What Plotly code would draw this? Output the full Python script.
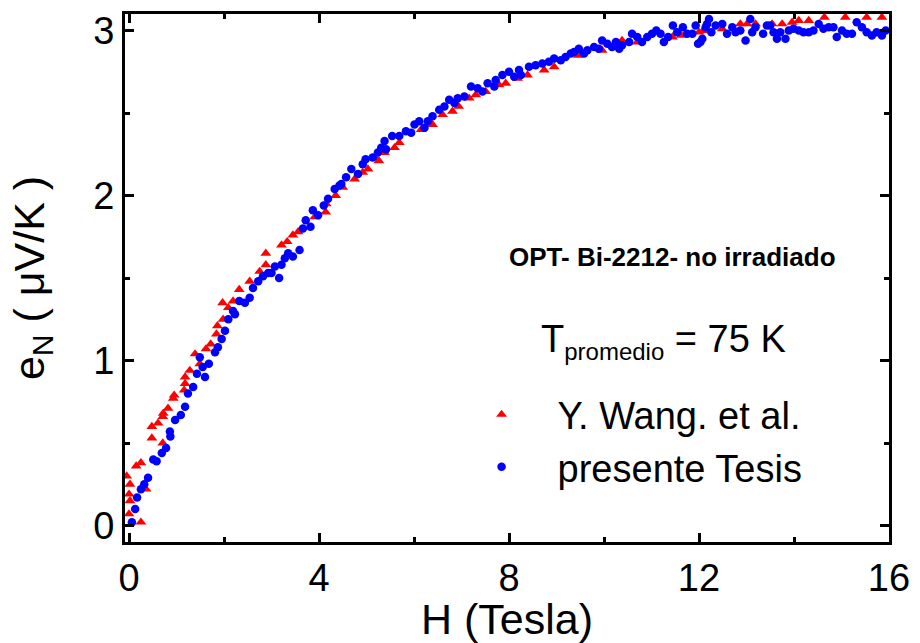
import plotly.graph_objects as go

# Y. Wang et al. (red triangles)
wang_H = [-0.05, 0.02, 0.00, 0.02, 0.00, 0.25, 0.15, 0.25, 0.36, 0.48, 0.48, 0.61, 0.71, 0.71,
          0.72, 0.82, 0.93, 0.95, 1.16, 1.18, 1.18, 1.28, 1.39, 1.49, 1.62, 1.72, 1.84, 1.86,
          1.98, 1.97, 2.09, 2.19, 2.32, 2.54, 2.75, 2.88, 2.88, 3.21, 3.33, 3.45, 3.56, 3.91,
          4.14, 4.15, 4.35, 4.50, 4.75, 4.92, 5.03, 5.17, 5.26, 5.38, 5.59, 5.69, 6.15, 6.39,
          6.60, 6.81, 6.94, 7.16, 7.30, 7.51, 7.79, 7.93, 8.18, 8.39, 8.74, 8.95, 9.46, 9.96,
          10.38, 10.70, 11.44, 11.63, 12.00, 12.09, 12.49, 12.87, 13.01, 13.19, 13.54, 13.75,
          13.96, 14.10, 14.31, 14.64, 15.08, 15.53, 15.85]
wang_e = [0.30, 0.25, 0.19, 0.15, 0.07, 0.02, 0.36, 0.38, 0.22, 0.53, 0.60, 0.62, 0.50, 0.66,
          0.68, 0.71, 0.77, 0.79, 0.82, 0.86, 0.90, 0.94, 1.04, 0.98, 1.07, 1.10, 1.16, 1.21,
          1.25, 1.35, 1.32, 1.36, 1.43, 1.48, 1.54, 1.58, 1.65, 1.70, 1.72, 1.76, 1.78, 1.87,
          1.90, 1.95, 2.00, 2.05, 2.10, 2.14, 2.16, 2.23, 2.21, 2.26, 2.29, 2.32, 2.40, 2.43,
          2.49, 2.51, 2.54, 2.59, 2.61, 2.63, 2.67, 2.68, 2.71, 2.73, 2.76, 2.78, 2.85, 2.88,
          2.94, 2.93, 2.96, 2.97, 2.99, 3.00, 3.01, 3.04, 3.04, 3.04, 3.04, 3.04,
          3.05, 3.06, 3.06, 3.08, 3.08, 3.08, 3.08]

# presente Tesis (blue dots)
tesis_H = [0.06, 0.13, 0.17, 0.25, 0.32, 0.40, 0.51, 0.58, 0.69, 0.78, 0.87, 0.86, 0.97, 1.09,
           1.18, 1.24, 1.35, 1.43, 1.60, 1.55, 1.68, 1.49, 1.81, 1.87, 1.95, 2.02, 2.09, 2.19,
           2.23, 2.32, 2.44, 2.54, 2.61, 2.72, 2.82, 2.93, 3.00, 3.16, 3.07, 3.21, 3.28, 3.35,
           3.45, 3.59, 3.66, 3.72, 3.82, 3.87, 3.98, 4.10, 4.19, 4.33, 4.43, 4.47, 4.57, 4.68,
           4.82, 4.92, 4.98, 5.13, 5.24, 5.31, 5.38, 5.41, 5.54, 5.69, 5.83, 5.94, 6.01, 6.11,
           6.22, 6.29, 6.39, 6.53, 6.64, 6.74, 6.85, 6.92, 7.06, 7.20, 7.34, 7.44, 7.55, 7.69,
           7.72, 7.86, 8.00, 8.11, 8.21, 8.25, 8.42, 8.56, 8.70, 8.84, 8.95, 9.09, 9.19, 9.30,
           9.37, 9.47, 9.58, 9.65, 9.79, 9.89, 9.96, 10.07, 10.17, 10.25, 10.32, 10.38, 10.53,
           10.59, 10.70, 10.80, 10.91, 11.01, 11.10, 11.19, 11.26, 11.35, 11.45, 11.54, 11.66,
           11.75, 11.86, 11.93, 11.98, 12.03, 12.07, 12.14, 12.17, 12.21, 12.26, 12.35, 12.49,
           12.59, 12.70, 12.77, 12.87, 12.98, 13.08, 13.12, 13.19, 13.35, 13.43, 13.50, 13.57,
           13.64, 13.71, 13.82, 13.89, 13.99, 14.10, 14.20, 14.31, 14.41, 14.52, 14.62, 14.73,
           14.83, 14.90, 15.01, 15.11, 15.22, 15.32, 15.43, 15.53, 15.64, 15.74, 15.85, 15.93]
tesis_e = [0.02, 0.10, 0.17, 0.22, 0.25, 0.29, 0.40, 0.39, 0.44, 0.47, 0.54, 0.57, 0.64, 0.67,
           0.72, 0.80, 0.84, 0.92, 0.90, 0.96, 0.98, 1.02, 1.05, 1.08, 1.13, 1.18, 1.25, 1.30,
           1.28, 1.36, 1.35, 1.38, 1.44, 1.48, 1.51, 1.53, 1.53, 1.50, 1.57, 1.58, 1.62, 1.65,
           1.63, 1.67, 1.80, 1.85, 1.81, 1.91, 1.88, 1.94, 1.98, 2.04, 2.06, 2.07, 2.11, 2.16,
           2.13, 2.19, 2.22, 2.23, 2.26, 2.29, 2.33, 2.28, 2.36, 2.36, 2.39, 2.38, 2.43, 2.45,
           2.41, 2.45, 2.48, 2.52, 2.54, 2.58, 2.56, 2.59, 2.60, 2.66, 2.65, 2.63, 2.68, 2.66,
           2.70, 2.73, 2.75, 2.72, 2.76, 2.73, 2.78, 2.79, 2.80, 2.81, 2.83, 2.82, 2.84, 2.86,
           2.87, 2.89, 2.86, 2.88, 2.90, 2.89, 2.94, 2.92, 2.90, 2.93, 2.89, 2.91, 2.93,
           2.98, 2.96, 2.93, 2.96, 2.98, 3.00, 2.98, 2.93, 2.96, 3.03, 2.99, 3.02,
           2.98, 2.98, 3.03, 2.92, 2.93, 2.95, 3.02, 3.04, 3.07, 2.99, 3.03, 3.04,
           2.98, 3.02, 2.99, 3.00, 2.94, 3.07, 2.99, 3.02, 2.98, 3.03, 3.03, 2.99,
           2.95, 2.99, 2.95, 3.00, 3.01, 3.00, 2.99, 2.99, 3.00, 3.04, 3.01, 3.02,
           3.02, 2.96, 3.00, 2.98, 2.98, 3.05, 3.02, 2.99, 2.97, 2.99, 2.97, 3.00]

x_ticks = [0, 4, 8, 12, 16]
y_ticks = [0, 1, 2, 3]

FONT = "Liberation Sans, Arial, sans-serif"

fig = go.Figure()
fig.add_trace(go.Scatter(x=wang_H, y=wang_e, mode="markers", name="Y. Wang. et al.",
                         marker=dict(symbol="triangle-up", color="#ff0000", size=9.5, line=dict(width=0))))
fig.add_trace(go.Scatter(x=tesis_H, y=tesis_e, mode="markers", name="presente Tesis",
                         marker=dict(symbol="circle", color="#0000ff", size=8.5, line=dict(width=0))))

axis_common = dict(showline=True, linewidth=3, linecolor="black", mirror="ticks",
                   ticks="inside", ticklen=9, tickwidth=3, tickcolor="black",
                   showgrid=False, zeroline=False,
                   tickfont=dict(family=FONT, size=38, color="black"))

fig.update_xaxes(range=[-0.085, 16], tickvals=x_ticks,
                 minor=dict(dtick=2, tick0=0, ticks="inside", ticklen=5, tickwidth=2.5, tickcolor="black"),
                 title=dict(text="H (Tesla)", font=dict(family=FONT, size=43, color="black"), standoff=2),
                 **axis_common)
fig.update_yaxes(range=[-0.1, 3.1], tickvals=y_ticks,
                 minor=dict(dtick=0.5, tick0=0, ticks="inside", ticklen=5, tickwidth=2.5, tickcolor="black"),
                 title=dict(text="e<sub>N</sub> ( μV/K )", font=dict(family=FONT, size=43, color="black"), standoff=36),
                 **axis_common)

fig.update_layout(
    width=920, height=643,
    margin=dict(l=125, r=30, t=10, b=101),
    plot_bgcolor="white", paper_bgcolor="white",
    font=dict(family=FONT, color="black"),
    showlegend=True,
    legend=dict(x=(446 - 125) / 765, y=(542 - 440) / 532, xanchor="left", yanchor="middle",
                font=dict(family=FONT, size=38, color="black"),
                bgcolor="rgba(0,0,0,0)", itemwidth=102, tracegroupgap=0),
    annotations=[
        dict(xref="paper", yref="paper", x=(508 - 125) / 765, y=(542 - 255) / 532,
             xanchor="left", yanchor="middle", showarrow=False,
             text="<b>OPT- Bi-2212- no irradiado</b>",
             font=dict(family=FONT, size=26, color="black")),
        dict(xref="paper", yref="paper", x=(540 - 125) / 765, y=(542 - 340) / 532,
             xanchor="left", yanchor="middle", showarrow=False,
             text="T<sub><span style=\"font-size:24px\">promedio</span></sub> = 75 K",
             font=dict(family=FONT, size=38, color="black")),
    ],
)

fig.write_html("out.html")
